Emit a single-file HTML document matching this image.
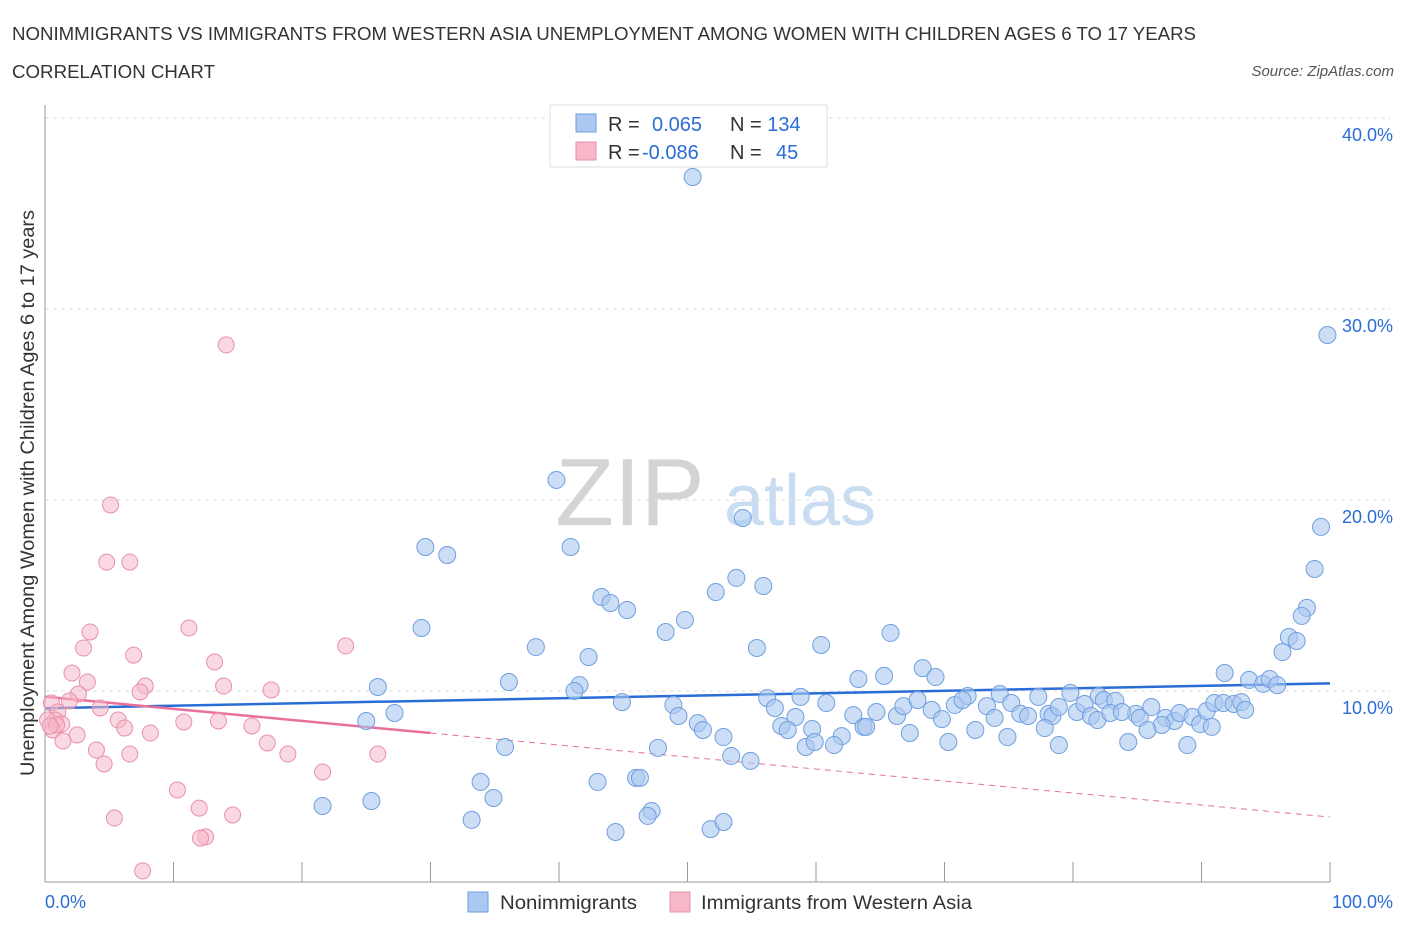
<!DOCTYPE html>
<html><head><meta charset="utf-8"><style>
body{margin:0;background:#fff;font-family:"Liberation Sans",sans-serif;}
svg text{font-family:"Liberation Sans",sans-serif;}
</style></head><body>
<svg id="chart" width="1406" height="930">
<text x="12" y="40" font-size="18" fill="#333" textLength="1184" lengthAdjust="spacingAndGlyphs">NONIMMIGRANTS VS IMMIGRANTS FROM WESTERN ASIA UNEMPLOYMENT AMONG WOMEN WITH CHILDREN AGES 6 TO 17 YEARS</text>
<text x="12" y="78" font-size="18" fill="#333" textLength="203" lengthAdjust="spacingAndGlyphs">CORRELATION CHART</text>
<text x="1394" y="76" font-size="15" fill="#555" text-anchor="end" font-style="italic">Source: ZipAtlas.com</text>
<text x="630" y="525" font-size="96" fill="#d4d4d4" font-family="Liberation Serif" text-anchor="middle">ZIP</text>
<text x="800" y="525" font-size="72" fill="#c8dcf2" text-anchor="middle">atlas</text>
<g id="grid"></g><g id="axes"></g><g id="trend"></g><g id="pts"></g>
<text transform="translate(34,493) rotate(-90)" font-size="19" fill="#333" text-anchor="middle" textLength="566" lengthAdjust="spacingAndGlyphs">Unemployment Among Women with Children Ages 6 to 17 years</text>
<g>
<rect x="550" y="105" width="277" height="62" fill="#fff" stroke="#ddd"/>
<rect x="576" y="114" width="20" height="18" fill="#aac8f0" stroke="#6f9fdf"/>
<rect x="576" y="142" width="20" height="18" fill="#f6b8c8" stroke="#e890aa"/>
<text x="608" y="131" font-size="20" fill="#333">R = <tspan fill="#2a6dd6" x="652">0.065</tspan><tspan x="730" fill="#333">N = </tspan><tspan fill="#2a6dd6">134</tspan></text>
<text x="608" y="159" font-size="20" fill="#333">R = <tspan fill="#2a6dd6" x="642">-0.086</tspan><tspan x="730" fill="#333">N = </tspan><tspan fill="#2a6dd6" x="776">45</tspan></text>
</g>
<g>
<rect x="468" y="892" width="20" height="20" fill="#aac8f0" stroke="#6f9fdf"/>
<text x="500" y="909" font-size="19" fill="#333" textLength="137" lengthAdjust="spacingAndGlyphs">Nonimmigrants</text>
<rect x="670" y="892" width="20" height="20" fill="#f6b8c8" stroke="#e890aa"/>
<text x="701" y="909" font-size="19" fill="#333" textLength="271" lengthAdjust="spacingAndGlyphs">Immigrants from Western Asia</text>
</g>
</svg>
<script>
const ns="http://www.w3.org/2000/svg";
const yTicks=[10,20,30,40];
const yTickLabels=["10.0%","20.0%","30.0%","40.0%"];
const xTickLabels=["0.0%","100.0%"];
const bluePx=[[692,177],[1328,335],[557,480],[743,518],[1321,527],[426,547],[447,555],[571,547],[1315,569],[736,578],[763,586],[716,592],[602,597],[610,603],[627,610],[1307,608],[1302,616],[685,620],[421,628],[666,632],[890,633],[1289,637],[1296,641],[536,647],[821,645],[757,648],[588,657],[1282,652],[923,668],[936,677],[884,676],[1224,673],[858,679],[509,682],[378,687],[1249,680],[1263,684],[1270,679],[1277,685],[580,685],[575,691],[622,702],[767,698],[800,697],[826,703],[968,696],[1000,694],[1038,697],[1070,693],[1099,696],[1104,700],[1116,701],[1136,714],[1152,707],[673,705],[678,716],[698,723],[703,730],[723,737],[775,708],[795,717],[781,726],[788,730],[812,729],[853,715],[863,727],[877,712],[897,716],[903,706],[917,700],[932,710],[942,719],[955,705],[963,700],[987,706],[994,718],[1011,703],[1020,714],[1028,716],[1048,714],[1053,716],[1059,707],[1077,712],[1084,704],[1091,716],[1097,720],[1110,713],[1122,712],[1140,718],[1166,718],[1174,721],[1180,713],[1193,717],[1200,724],[1206,711],[1214,703],[1223,703],[1234,704],[1241,702],[1245,710],[1212,727],[1187,745],[1162,725],[1148,730],[1128,742],[1059,745],[1045,728],[1007,737],[975,730],[948,742],[910,733],[866,727],[842,736],[834,745],[806,747],[815,742],[751,761],[731,756],[658,748],[636,778],[640,778],[505,747],[394,713],[366,721],[481,782],[494,798],[323,806],[371,801],[471,820],[597,782],[652,811],[648,816],[616,832],[711,829],[723,822]];
const pinkPx=[[226,345],[111,505],[107,562],[130,562],[90,632],[189,628],[84,648],[134,655],[346,646],[72,673],[215,662],[88,682],[145,686],[224,686],[271,690],[78,694],[140,692],[69,701],[51,703],[58,712],[100,708],[55,720],[62,724],[47,720],[53,730],[118,720],[125,728],[184,722],[218,721],[252,726],[150,733],[77,735],[63,741],[96,750],[267,743],[130,754],[288,754],[378,754],[104,764],[322,772],[177,790],[199,808],[232,815],[115,818],[206,837],[201,838],[143,871],[57,725],[50,726]];
const blueX=bluePx.map(p=>+((p[0]-45)/12.85).toFixed(1));
const blueY=bluePx.map(p=>+((882-p[1])/19.1).toFixed(2));
const pinkX=pinkPx.map(p=>+((p[0]-45)/12.85).toFixed(1));
const pinkY=pinkPx.map(p=>+((882-p[1])/19.1).toFixed(2));
const blueTrend=[[0,9.1],[100,10.4]];
const pinkTrend=[[0,9.7],[30,7.8],[100,3.4]];
const X=v=>45+v*12.85, Y=v=>882-v*19.1;
function mk(t,a,p){const e=document.createElementNS(ns,t);for(const k in a)e.setAttribute(k,a[k]);p.appendChild(e);return e;}
const grid=document.getElementById('grid'),axes=document.getElementById('axes');
yTicks.forEach((v,i)=>{
 const l=mk('line',{x1:45,x2:1390,y1:Y(v),y2:Y(v),stroke:'#ddd','stroke-dasharray':'4,4'},grid);
 
 
 const t=mk('text',{x:1393,y:Y(v)+23,'font-size':18,fill:'#2a6dd6','text-anchor':'end'},axes);t.textContent=yTickLabels[i];
 
 
});
mk('line',{x1:45,x2:45,y1:105,y2:882,stroke:'#999'},axes);
mk('line',{x1:45,x2:1330,y1:882,y2:882,stroke:'#999'},axes);
for(let i=0;i<=10;i++){const tk=mk('line',{x1:X(i*10),x2:X(i*10),y1:862,y2:882,stroke:'#999'},axes);
 
 }
let t0=mk('text',{x:45,y:908,'font-size':18,fill:'#2a6dd6'},axes);t0.textContent=xTickLabels[0];


let t1=mk('text',{x:1393,y:908,'font-size':18,fill:'#2a6dd6','text-anchor':'end'},axes);t1.textContent=xTickLabels[1];


const tr=document.getElementById('trend');
const bl=mk('line',{x1:X(blueTrend[0][0]),y1:Y(blueTrend[0][1]),x2:X(blueTrend[1][0]),y2:Y(blueTrend[1][1]),stroke:'#2a6dd6','stroke-width':2.5},tr);


const pl=mk('line',{x1:X(pinkTrend[0][0]),y1:Y(pinkTrend[0][1]),x2:X(pinkTrend[1][0]),y2:Y(pinkTrend[1][1]),stroke:'#e8709a','stroke-width':2.5},tr);


const pd=mk('line',{x1:X(pinkTrend[1][0]),y1:Y(pinkTrend[1][1]),x2:X(pinkTrend[2][0]),y2:Y(pinkTrend[2][1]),stroke:'#e8709a','stroke-width':1,'stroke-dasharray':'6,5'},tr);


const pts=document.getElementById('pts');
pinkX.forEach((x,i)=>{const c=mk('circle',{cx:X(x),cy:Y(pinkY[i]),r:8,fill:'#f6b8c8','fill-opacity':0.55,stroke:'#e890aa','stroke-width':1},pts);
 
 });
blueX.forEach((x,i)=>{const c=mk('circle',{cx:X(x),cy:Y(blueY[i]),r:8.5,fill:'#aac8f0','fill-opacity':0.6,stroke:'#6f9fdf','stroke-width':1},pts);
 
 });
</script>
</body></html>
